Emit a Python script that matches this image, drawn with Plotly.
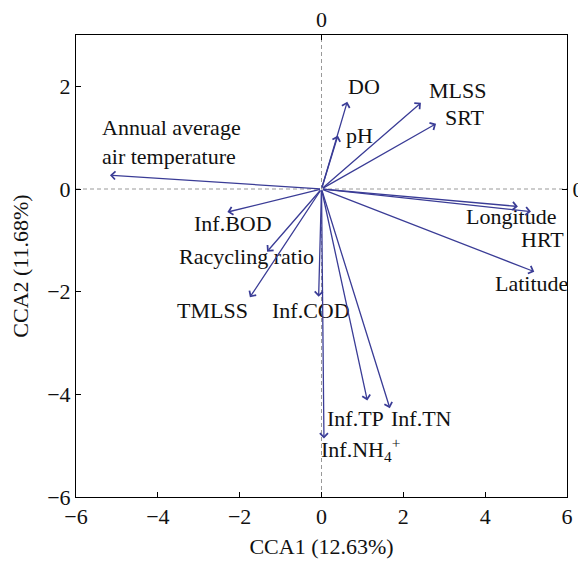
import plotly.graph_objects as go

# ---- data ----
variables = ["DO", "pH", "MLSS", "SRT", "Annual average<br>air temperature",
             "Longitude", "HRT", "Latitude", "Inf.BOD", "Racycling ratio",
             "TMLSS", "Inf.COD", "Inf.TP", "Inf.TN", "Inf.NH<sub>4</sub><sup>+</sup>"]
cca1 = [0.63, 0.40, 2.43, 2.80, -5.17, 4.80, 5.12, 5.20, -2.30, -1.33, -1.75, -0.07, 1.12, 1.67, 0.06]
cca2 = [1.70, 1.04, 1.68, 1.27, 0.27, -0.34, -0.44, -1.61, -0.45, -1.22, -2.11, -2.10, -4.12, -4.27, -4.86]
x_ticks = [-6, -4, -2, 0, 2, 4, 6]
y_ticks = [-6, -4, -2, 0, 2]

# label placement (layout only)
label_pos = [(1.04, 2.0, "center"), (0.92, 1.04, "center"), (3.33, 1.91, "center"),
             (3.51, 1.40, "center"), (-5.42, 0.91, "left"), (4.64, -0.53, "center"),
             (5.39, -0.98, "center"), (5.13, -1.84, "center"), (-2.17, -0.67, "center"),
             (-1.83, -1.31, "center"), (-2.67, -2.37, "center"), (-0.25, -2.37, "center"),
             (0.82, -4.48, "center"), (2.44, -4.48, "center"), (0.95, -5.07, "center")]

FONT = "Liberation Serif"
FS = 22
ARROW = "rgb(58,60,150)"

fig = go.Figure()
fig.add_trace(go.Scatter(x=[0], y=[0], mode="markers", marker=dict(size=1, color="rgba(0,0,0,0)"),
                         showlegend=False, hoverinfo="skip"))
fig.add_trace(go.Scatter(x=[0], y=[0], xaxis="x2", yaxis="y2", mode="markers",
                         marker=dict(size=1, color="rgba(0,0,0,0)"), showlegend=False, hoverinfo="skip"))

annotations = []
for name, x, y, (lx, ly, al) in zip(variables, cca1, cca2, label_pos):
    annotations.append(dict(x=x, y=y, ax=0, ay=0, xref="x", yref="y", axref="x", ayref="y",
                            showarrow=True, arrowhead=4, arrowsize=1.2, arrowwidth=1.3,
                            arrowcolor=ARROW, text=""))
    annotations.append(dict(x=lx, y=ly, xref="x", yref="y", showarrow=False, text=name,
                            xanchor="left" if al == "left" else "center", align=al,
                            font=dict(family=FONT, size=FS, color="#111")))

shapes = [
    dict(type="line", x0=0, x1=0, y0=-6, y1=3, xref="x", yref="y",
         line=dict(color="#999", width=1, dash="4px,3px"), layer="below"),
    dict(type="line", x0=-6, x1=6, y0=0, y1=0, xref="x", yref="y",
         line=dict(color="#999", width=1, dash="4px,3px"), layer="below"),
]

axis_common = dict(showline=True, linecolor="black", linewidth=1, showgrid=False, zeroline=False,
                   ticks="inside", ticklen=5, tickcolor="black", automargin=False,
                   tickfont=dict(family=FONT, size=FS, color="#111"))

# the page body adds an 8px offset, so the figure is sized to compensate
fig.update_layout(
    template="none",
    width=578, height=553,
    margin=dict(l=68, r=19, t=27, b=64),
    paper_bgcolor="white", plot_bgcolor="white",
    font=dict(family=FONT, size=FS, color="#111"),
    xaxis=dict(range=[-6, 6], tickvals=x_ticks,
               title=dict(text="CCA1 (12.63%)", font=dict(family=FONT, size=FS), standoff=10),
               **axis_common),
    yaxis=dict(range=[-6, 3], tickvals=y_ticks,
               title=dict(text="CCA2 (11.68%)", font=dict(family=FONT, size=FS), standoff=13),
               **axis_common),
    xaxis2=dict(range=[-6, 6], overlaying="x", side="top", tickvals=[0], ticklabelstandoff=-2,
                **axis_common),
    yaxis2=dict(range=[-6, 3], overlaying="y", side="right", tickvals=[0], **axis_common),
    annotations=annotations, shapes=shapes, showlegend=False,
)

fig.write_html("out.html")
